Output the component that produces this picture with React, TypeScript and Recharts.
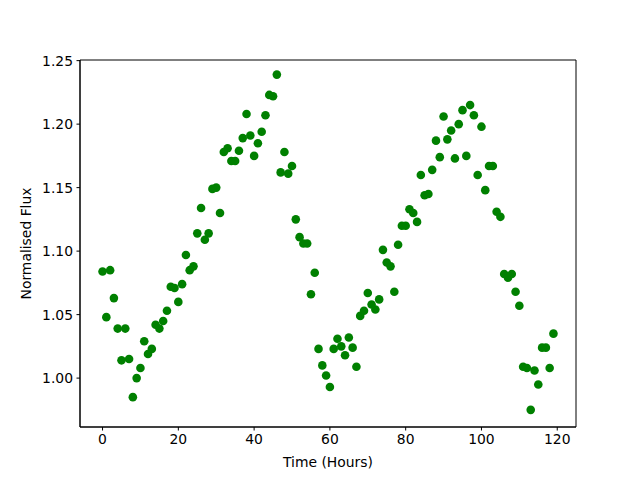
import { ScatterChart, Scatter, XAxis, YAxis, ReferenceArea } from "recharts";

const hours: number[] = Array.from({ length: 120 }, (_, i) => i);

const flux: number[] = [
  1.084, 1.048, 1.085, 1.063, 1.039, 1.014, 1.039, 1.015, 0.985, 1.0,
  1.008, 1.029, 1.019, 1.023, 1.042, 1.039, 1.045, 1.053, 1.072, 1.071,
  1.06, 1.074, 1.097, 1.085, 1.088, 1.114, 1.134, 1.109, 1.114, 1.149,
  1.15, 1.13, 1.178, 1.181, 1.171, 1.171, 1.179, 1.189, 1.208, 1.191,
  1.175, 1.185, 1.194, 1.207, 1.223, 1.222, 1.239, 1.162, 1.178, 1.161,
  1.167, 1.125, 1.111, 1.106, 1.106, 1.066, 1.083, 1.023, 1.01, 1.002,
  0.993, 1.023, 1.031, 1.025, 1.018, 1.032, 1.024, 1.009, 1.049, 1.053,
  1.067, 1.058, 1.054, 1.062, 1.101, 1.091, 1.088, 1.068, 1.105, 1.12,
  1.12, 1.133, 1.13, 1.123, 1.16, 1.144, 1.145, 1.164, 1.187, 1.174,
  1.206, 1.188, 1.195, 1.173, 1.2, 1.211, 1.175, 1.215, 1.207, 1.16,
  1.198, 1.148, 1.167, 1.167, 1.131, 1.127, 1.082, 1.079, 1.082, 1.068,
  1.057, 1.009, 1.008, 0.975, 1.006, 0.995, 1.024, 1.024, 1.008, 1.035,
];

const xTicks = [0, 20, 40, 60, 80, 100, 120];
const yTicks = [1.0, 1.05, 1.1, 1.15, 1.2, 1.25];
const xDomain: [number, number] = [-5.95, 124.95];
const yDomain: [number, number] = [0.9615, 1.2505];

const points = hours.map((h, i) => ({ time: h, flux: flux[i] }));

const font = "DejaVu Sans, sans-serif";

const Dot = (props: any) => (
  <circle cx={props.cx} cy={props.cy} r={4.3} fill="#008000" />
);

const App = () => {
  return (
    <div style={{ position: "fixed", left: 0, top: 0, background: "#fff" }}>
      <ScatterChart
        width={640}
        height={480}
        margin={{ top: 60, right: 64, bottom: 13, left: 20 }}
      >
        <XAxis
          type="number"
          dataKey="time"
          domain={xDomain}
          ticks={xTicks}
          allowDataOverflow
          stroke="#000"
          tickSize={3.5}
          tickMargin={3.5}
          tick={{ fill: "#000", fontSize: 13.9, fontFamily: font }}
          height={40}
          label={{
            value: "Time (Hours)",
            position: "insideBottom",
            offset: 0,
            fill: "#000",
            fontSize: 13.9,
            fontFamily: font,
          }}
        />
        <YAxis
          type="number"
          dataKey="flux"
          domain={yDomain}
          ticks={yTicks}
          allowDataOverflow
          stroke="#000"
          tickSize={3.5}
          tickMargin={3.5}
          width={60}
          tickFormatter={(v: number) => v.toFixed(2)}
          tick={{ fill: "#000", fontSize: 13.9, fontFamily: font }}
          label={{
            value: "Normalised Flux",
            angle: -90,
            position: "insideLeft",
            offset: 6,
            style: { textAnchor: "middle" },
            fill: "#000",
            fontSize: 13.9,
            fontFamily: font,
          }}
        />
        <ReferenceArea
          x1={xDomain[0]}
          x2={xDomain[1]}
          y1={yDomain[0]}
          y2={yDomain[1]}
          fill="none"
          fillOpacity={0}
          stroke="#000"
          strokeWidth={1}
          ifOverflow="visible"
        />
        <Scatter
          data={points}
          shape={<Dot />}
          isAnimationActive={false}
        />
      </ScatterChart>
    </div>
  );
};

export default App;
